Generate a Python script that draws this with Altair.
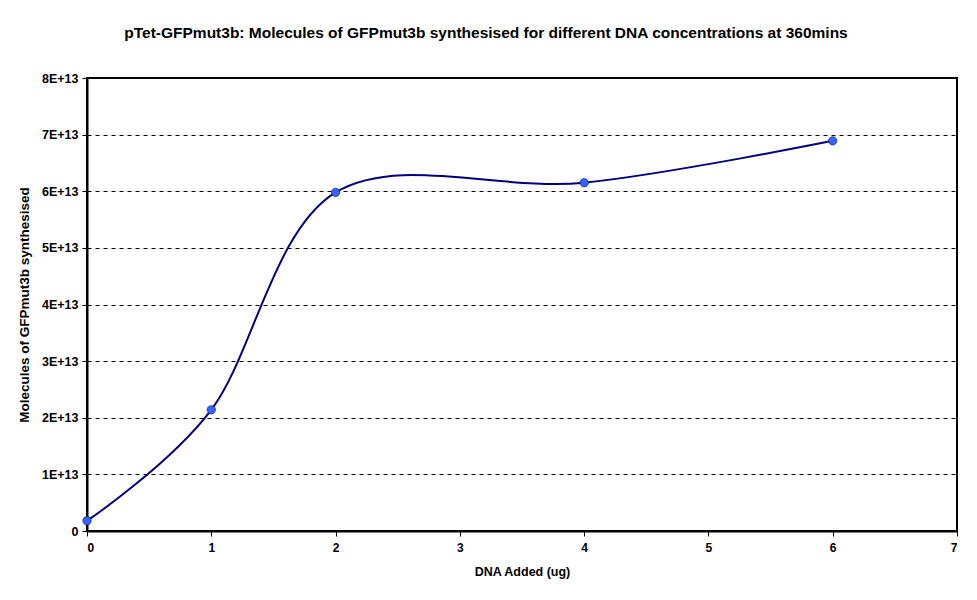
import altair as alt
import pandas as pd

dna_added = [0, 1, 2, 4, 6]
molecules = [1.8e12, 2.14e13, 5.98e13, 6.15e13, 6.89e13]

df = pd.DataFrame({"dna": dna_added, "mol": molecules})

FONT = "Liberation Sans"

x = alt.X("dna:Q", title="DNA Added (ug)",
          scale=alt.Scale(domain=[0, 7], nice=False),
          axis=alt.Axis(values=[0, 1, 2, 3, 4, 5, 6, 7], grid=False, tickSize=5,
                        tickColor="black", domainColor="black", domainWidth=2,
                        labelFont=FONT, labelFontSize=12, labelFontWeight="bold",
                        labelColor="black", labelPadding=6,
                        titleFont=FONT, titleFontSize=12.5, titleFontWeight="bold",
                        titleColor="black", titlePadding=12))
y = alt.Y("mol:Q", title="Molecules of GFPmut3b synthesised",
          scale=alt.Scale(domain=[0, 8e13], nice=False),
          axis=alt.Axis(values=[i * 1e13 for i in range(9)], grid=True,
                        gridDash=[4, 4], gridColor="black", gridWidth=1,
                        tickSize=5, tickColor="black", domainColor="black", domainWidth=2,
                        labelExpr="datum.value == 0 ? '0' : round(datum.value/1e13) + 'E+13'",
                        labelFont=FONT, labelFontSize=12.5, labelFontWeight="bold",
                        labelColor="black", labelPadding=4,
                        titleFont=FONT, titleFontSize=13.5, titleFontWeight="bold",
                        titleColor="black", titlePadding=10))

line = alt.Chart(df).mark_line(color="#000080", strokeWidth=2,
                               interpolate="cardinal", tension=0).encode(x=x, y=y)
pts = alt.Chart(df).mark_point(filled=True, size=70, color="#3366FF",
                               stroke="#000080", strokeWidth=0.6, opacity=1).encode(x=x, y=y)

chart = (line + pts).properties(
    width=870, height=453,
    title=alt.TitleParams("pTet-GFPmut3b: Molecules of GFPmut3b synthesised for different DNA concentrations at 360mins",
                          font=FONT, fontSize=15.5, fontWeight="bold", color="black",
                          anchor="middle", offset=31, dx=-36),
    autosize=alt.AutoSizeParams(type="none"),
    padding={"left": 79, "top": 70, "right": 12, "bottom": 61},
    background="white",
).configure_view(stroke="black", strokeWidth=2)

chart.save("out.html", embed_options={"renderer": "svg", "actions": False})
